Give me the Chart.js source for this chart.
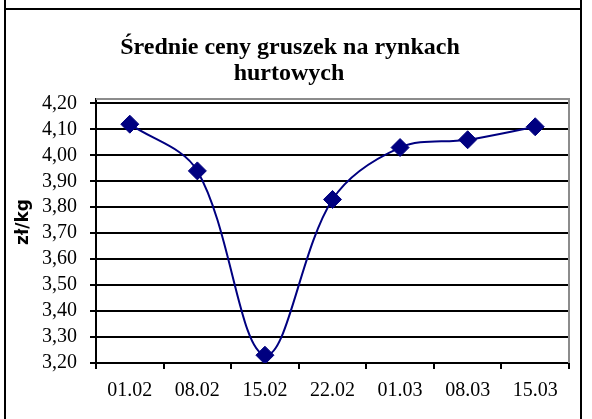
<!DOCTYPE html>
<html>
<head>
<meta charset="utf-8">
<script src="https://cdn.jsdelivr.net/npm/chart.js@4/dist/chart.umd.min.js"></script>
<style>
    body { margin: 0; background: #fff; }
    #wrap { position: relative; width: 592px; height: 419px; }
    .line { position: absolute; background: #000; }
</style>
</head>
<body>
<div id="wrap">
    <canvas id="myChart"></canvas>
    <div class="line" style="left:4px; top:0; width:2px; height:419px"></div>
    <div class="line" style="left:580px; top:0; width:2px; height:419px"></div>
    <div class="line" style="left:4px; top:8px; width:578px; height:2px"></div>
</div>
<script>
const dates = ["01.02", "08.02", "15.02", "22.02", "01.03", "08.03", "15.03"];
const prices = [4.12, 3.94, 3.23, 3.83, 4.03, 4.06, 4.11];
const titleLines = ["Średnie ceny gruszek na rynkach", "hurtowych"];
const yLabel = "zł/kg";

// gray frame on top and right of the plot area, like excel
const plotFrame = {
    id: 'plotFrame',
    beforeDatasetsDraw(chart) {
        const a = chart.chartArea;
        const ctx = chart.ctx;
        ctx.save();
        ctx.strokeStyle = '#8c8c8c';
        ctx.lineWidth = 2;
        ctx.beginPath();
        ctx.moveTo(a.left, a.top);
        ctx.lineTo(a.right, a.top);
        ctx.lineTo(a.right, a.bottom);
        ctx.stroke();
        ctx.restore();
    }
};

// title and axis label sit off-centre in the excel original, so draw them by hand
const texts = {
    id: 'texts',
    afterDraw(chart) {
        const ctx = chart.ctx;
        const a = chart.chartArea;
        ctx.save();
        ctx.fillStyle = '#000';
        ctx.textAlign = 'center';
        ctx.textBaseline = 'alphabetic';
        ctx.font = "bold 24px 'Liberation Serif'";
        ctx.fillText(titleLines[0], 290, 54);
        ctx.fillText(titleLines[1], 289, 80);

        ctx.translate(a.left - 72, (a.top + a.bottom) / 2 - 9);
        ctx.rotate(-Math.PI / 2);
        ctx.textBaseline = 'middle';
        ctx.font = "bold 17px 'DejaVu Sans'";
        ctx.fillText(yLabel, 0, 0);
        ctx.restore();
    }
};

new Chart(document.getElementById("myChart"), {
    type: 'line',
    data: {
        labels: dates,
        datasets: [{
            data: prices,
            borderColor: '#000080',
            backgroundColor: '#000080',
            borderWidth: 2,
            tension: 0.35,
            pointStyle: 'rectRot',
            pointRadius: 9,
            pointBorderWidth: 1,
            pointHoverRadius: 9
        }]
    },
    options: {
        responsive: true,
        maintainAspectRatio: false,
        animation: false,
        layout: { padding: { left: 29, right: 23, top: 99, bottom: 6 } },
        plugins: {
            legend: { display: false },
            tooltip: { enabled: false },
            title: { display: false }
        },
        scales: {
            x: {
                offset: true,
                grid: {
                    offset: true,
                    drawOnChartArea: false,
                    color: '#000',
                    lineWidth: 2,
                    tickLength: 6
                },
                border: { color: '#000', width: 2 },
                ticks: {
                    color: '#000',
                    padding: 10,
                    maxRotation: 0,
                    font: { family: "'Liberation Serif'", size: 20 }
                }
            },
            y: {
                min: 3.2,
                max: 4.217,
                grid: { color: '#000', lineWidth: 2, tickLength: 6 },
                border: { color: '#000', width: 2 },
                ticks: {
                    stepSize: 0.1,
                    includeBounds: false,
                    autoSkip: false,
                    color: '#000',
                    padding: 13,
                    font: { family: "'Liberation Serif'", size: 20 },
                    callback: v => v.toFixed(2).replace('.', ',')
                }
            }
        }
    },
    plugins: [plotFrame, texts]
});
</script>
</body>
</html>
